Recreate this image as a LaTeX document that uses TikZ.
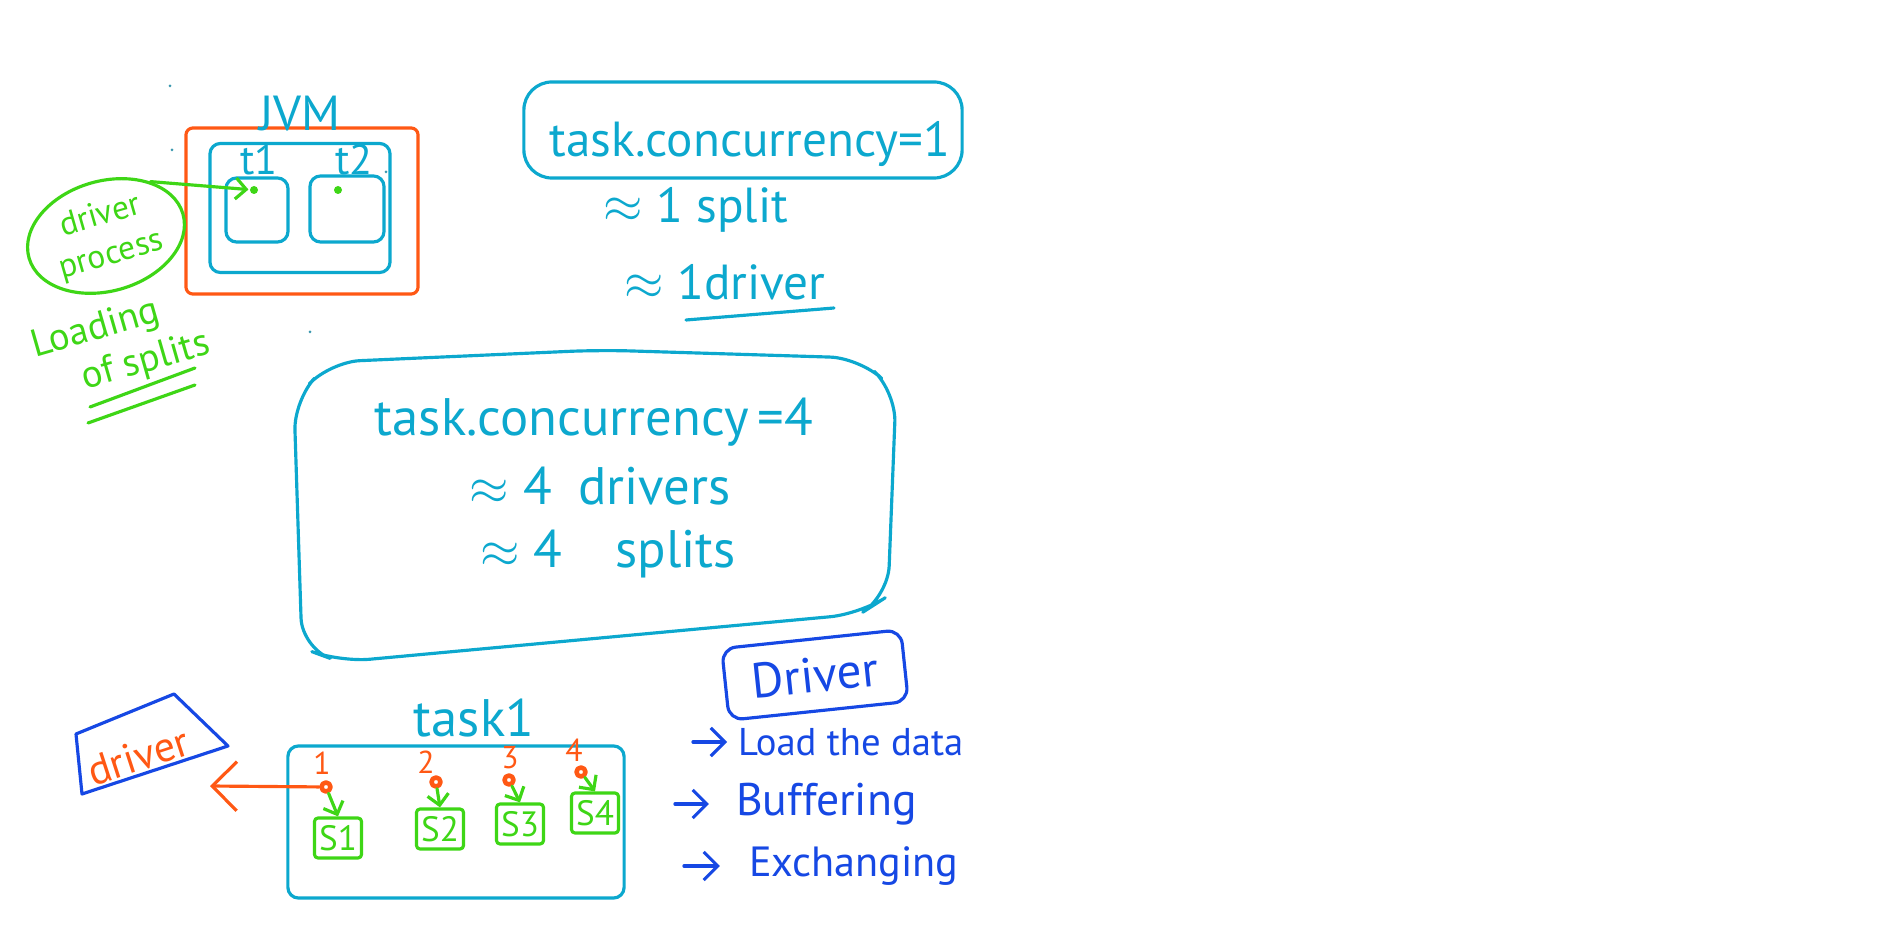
\documentclass[tikz,border=0pt]{standalone}
\usepackage{fontspec}
\setmainfont{PT Sans}
\usetikzlibrary{arrows.meta,shapes.geometric}
\definecolor{penCyan}{RGB}{12,168,206}
\definecolor{penOrange}{RGB}{255,88,20}
\definecolor{penGreen}{RGB}{62,214,22}
\definecolor{penBlue}{RGB}{22,72,228}
\begin{document}
\begin{tikzpicture}[x=0.01cm, y=-0.01cm, line width=0.9pt, line cap=round, line join=round,
  hand/.style={inner sep=1pt, font=\fontsize{#1}{#1}\selectfont},
  cyanbox/.style={draw=penCyan, rectangle, rounded corners=3pt},
  orgbox/.style={draw=penOrange, rectangle, rounded corners=2pt},
  bluebox/.style={draw=penBlue, rectangle, rounded corners=4pt},
  grnbox/.style={draw=penGreen, rectangle, rounded corners=1pt, minimum width=0.47cm, minimum height=0.40cm},
  pendot/.style={circle, fill=penGreen, inner sep=0pt, minimum size=0.08cm},
  holdot/.style={circle, draw=penOrange, line width=1.3pt, inner sep=0pt, minimum size=0.09cm},
  strayd/.style={circle, fill=penCyan!60!gray, inner sep=0pt, minimum size=0.03cm},
  grnarrow/.style={draw=penGreen, -{Straight Barb[length=3pt,width=6pt]}},
  orgarrow/.style={draw=penOrange, -{Straight Barb[length=7pt,width=14pt]}},
  bluearrow/.style={draw=penBlue, -{Straight Barb[length=4pt,width=8pt]}}]
\fill[white] (0,0) rectangle (1881,952);
\useasboundingbox (0,0) rectangle (1881,952);

% JVM with two task slots
\node[orgbox, minimum width=2.32cm, minimum height=1.66cm] (jvm) at (302,211) {};
\node[cyanbox, minimum width=1.80cm, minimum height=1.29cm] (pool) at (300,208) {};
\node[cyanbox, minimum width=0.62cm, minimum height=0.64cm] (t1box) at (257,210) {};
\node[cyanbox, minimum width=0.74cm, minimum height=0.66cm] (t2box) at (347,209) {};
\node[hand=14, text=penCyan] (jvmlbl) at (300,114) {JVM};
\node[hand=12, text=penCyan] (t1lbl) at (259,160) {t1};
\node[hand=12, text=penCyan] (t2lbl) at (354,160) {t2};
\node[pendot] (dotA) at (254,190) {};
\node[pendot] (dotB) at (338,190) {};

% driver process
\node[draw=penGreen, ellipse, minimum width=1.6cm, minimum height=1.1cm, rotate=16,
  hand=9.5, text=penGreen, align=center, inner sep=0pt] (proc) at (106,236) {driver\\[2pt]process};
\draw[grnarrow] (proc.north east) -- (dotA);
\node[hand=11, text=penGreen, rotate=16] (loadA) at (96,330) {Loading};
\node[hand=11, text=penGreen, rotate=16] (loadB) at (146,362) {of splits};
\draw[draw=penGreen] (90,407) -- (195,368);
\draw[draw=penGreen] (88,423) -- (195,385);

% concurrency = 1
\node[cyanbox, rounded corners=8pt, minimum width=4.38cm, minimum height=0.96cm] (cfgone) at (743,130) {};
\node[hand=14, text=penCyan] (cfgonetxt) at (750,144) {task.concurrency=1};
\node[hand=14, text=penCyan] (onesplit) at (696,210) {$\approx$ 1 split};
\node[hand=14, text=penCyan] (onedrv) at (725,282) {$\approx$ 1driver};
\draw[draw=penCyan] (686,320) -- (834,308);

% concurrency = 4
\draw[draw=penCyan, rounded corners=0.3cm] (294,400) -- (330,362) -- (600,350) -- (860,358)
  -- (896,392) -- (888,596) -- (860,614) -- (340,662) -- (302,648) -- cycle;
\node[hand=15, text=penCyan] (cfgfour) at (594,422) {task.concurrency\,=4};
\node[hand=15, text=penCyan] (fourdrv) at (600,486) {$\approx$ 4\enspace drivers};
\node[hand=15, text=penCyan] (foursplit) at (608,554) {$\approx$ 4\quad splits};

% driver duties
\node[bluebox, rotate=6, minimum width=1.8cm, minimum height=0.72cm, hand=14, text=penBlue] (drvbox) at (815,675) {Driver};
\node[hand=11, text=penBlue, anchor=west] (load) at (733,742) {Load the data};
\node[hand=13, text=penBlue, anchor=west] (buff) at (731,804) {Buffering};
\node[hand=12, text=penBlue, anchor=west] (exch) at (744,866) {Exchanging};
\draw[bluearrow] ([xshift=-0.40cm]load.west) -- ([xshift=-0.06cm]load.west);
\draw[bluearrow] ([xshift=-0.56cm]buff.west) -- ([xshift=-0.22cm]buff.west);
\draw[bluearrow] ([xshift=-0.60cm]exch.west) -- ([xshift=-0.24cm]exch.west);

% task1 with four splits
\node[cyanbox, minimum width=3.36cm, minimum height=1.52cm] (taskone) at (456,822) {};
\node[hand=15, text=penCyan] (tasklbl) at (474,718) {task1};
\foreach \i/\nx/\ny/\cx/\cy/\sx/\sy in {1/322/763/326/787/338/838, 2/426/762/436/782/440/829,
    3/510/758/509/780/520/824, 4/574/750/581/772/595/813} {
  \node[hand=9, text=penOrange] (n\i) at (\nx,\ny) {\i};
  \node[holdot] (c\i) at (\cx,\cy) {};
  \node[grnbox, hand=10, text=penGreen] (s\i) at (\sx,\sy) {S\i};
  \draw[grnarrow] (c\i) -- (s\i.north);
}

% driver fed by split 1
\draw[draw=penBlue] (76,734) -- (174,694) -- (228,746) -- (82,794) -- cycle;
\node[hand=12, text=penOrange, rotate=18] (drvlbl) at (138,756) {driver};
\coordinate (drvend) at (210,786);
\draw[orgarrow] (c1) -- (drvend);

% stray pen dots
\node[strayd] (sd1) at (170,86) {};
\node[strayd] (sd2) at (172,150) {};
\node[strayd] (sd3) at (310,332) {};
\node[strayd] (sd4) at (386,172) {};
\end{tikzpicture}
\end{document}
